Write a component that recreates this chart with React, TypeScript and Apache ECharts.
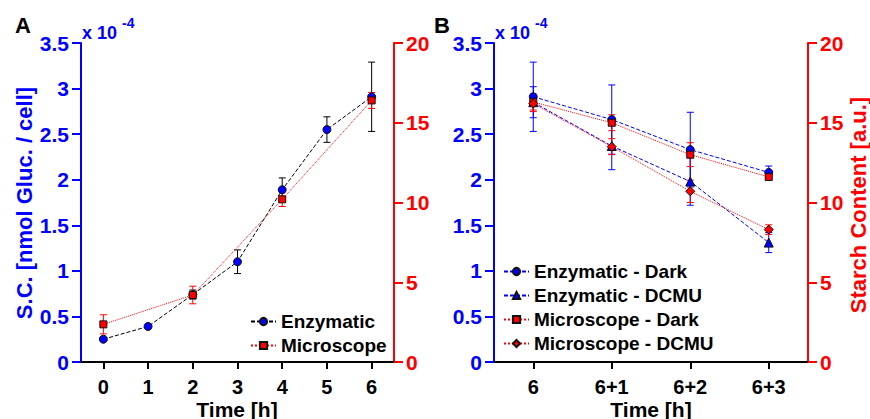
import React, { useEffect, useRef } from 'react';
import * as echarts from 'echarts';

const FONT = 'Liberation Sans, Arial, Helvetica, sans-serif';
const BLUE = '#0000FF';
const RED = '#FF0000';

// Panel A
const timeA = ['0', '1', '2', '3', '4', '5', '6'];
const enzymaticA = [0.25, 0.39, 0.74, 1.1, 1.89, 2.55, 2.91];
const enzymaticAErr = [0.02, 0.02, 0.05, 0.13, 0.13, 0.14, 0.38];
const microscopeA = [2.36, null, 4.2, null, 10.2, null, 16.4];
const microscopeAErr = [0.6, null, 0.55, null, 0.45, null, 0.5];

// Panel B
const timeB = ['6', '6+1', '6+2', '6+3'];
const enzDark = [2.91, 2.66, 2.33, 2.08];
const enzDarkErr = [0.38, 0.38, 0.41, 0.07];
const enzDCMU = [2.85, 2.37, 1.98, 1.31];
const enzDCMUErr = [0.17, 0.26, 0.26, 0.11];
const micDark = [16.3, 15.0, 13.0, 11.6];
const micDarkErr = [0.5, 0.5, 0.75, 0.2];
const micDCMU = [16.2, 13.5, 10.7, 8.3];
const micDCMUErr = [0.5, 0.5, 0.7, 0.3];

const leftTicks = { min: 0, max: 3.5, interval: 0.5 };
const rightTicks = { min: 0, max: 20, interval: 5 };

function errData(vals: (number | null)[], errs: (number | null)[]) {
  const out: number[][] = [];
  vals.forEach((v, i) => {
    const e = errs[i];
    if (v != null && e != null) out.push([i, v - e, v + e]);
  });
  return out;
}

const errRender = (color: string) => (params: any, api: any) => {
  const x = api.value(0);
  const lo = api.coord([x, api.value(1)]);
  const hi = api.coord([x, api.value(2)]);
  const w = 3.5;
  const style = { stroke: color, lineWidth: 1 };
  return {
    type: 'group',
    children: [
      { type: 'line', shape: { x1: hi[0], y1: hi[1], x2: lo[0], y2: lo[1] }, style },
      { type: 'line', shape: { x1: hi[0] - w, y1: hi[1], x2: hi[0] + w, y2: hi[1] }, style },
      { type: 'line', shape: { x1: lo[0] - w, y1: lo[1], x2: lo[0] + w, y2: lo[1] }, style },
    ],
  };
};

function errSeries(xi: number, yi: number, vals: any[], errs: any[], color: string) {
  return {
    type: 'custom',
    xAxisIndex: xi,
    yAxisIndex: yi,
    renderItem: errRender(color),
    encode: { x: 0, y: [1, 2] },
    data: errData(vals, errs),
    z: 1,
    silent: true,
  };
}

function lineSeries(name: string, xi: number, yi: number, data: any[], lineColor: string, dash: any, symbol: string, symbolColor: string, size: number) {
  return {
    name,
    type: 'line',
    xAxisIndex: xi,
    yAxisIndex: yi,
    data,
    connectNulls: true,
    symbol,
    symbolSize: size,
    lineStyle: { color: lineColor, width: 1, type: dash },
    itemStyle: { color: symbolColor, borderColor: '#111', borderWidth: 1 },
    z: 3,
  };
}

function yAxis(grid: number, pos: 'left' | 'right', color: string, ticks: any) {
  return {
    type: 'value',
    gridIndex: grid,
    position: pos,
    ...ticks,
    axisLine: { show: true, lineStyle: { color, width: 2 } },
    axisTick: { show: true, length: 9, lineStyle: { color, width: 2 } },
    axisLabel: { color, fontSize: 21, fontWeight: 'bold', fontFamily: FONT, margin: 12 },
    splitLine: { show: false },
  };
}

function xAxis(grid: number, data: string[]) {
  return {
    type: 'category',
    gridIndex: grid,
    data,
    position: 'bottom',
    boundaryGap: true,
    axisLine: { show: true, lineStyle: { color: '#000', width: 2 } },
    axisTick: { show: true, alignWithLabel: true, length: 7, lineStyle: { color: '#000', width: 2 } },
    axisLabel: { color: '#000', fontSize: 20, fontWeight: 'bold', fontFamily: FONT, margin: 15 },
    splitLine: { show: false },
  };
}

function topAxis(grid: number, data: string[]) {
  return {
    type: 'category',
    gridIndex: grid,
    data,
    position: 'top',
    axisLine: { show: true, lineStyle: { color: '#000', width: 2 } },
    axisTick: { show: false },
    axisLabel: { show: false },
  };
}

function txt(text: string, x: number, y: number, size: number, color: string, opts: any = {}) {
  return {
    type: 'text',
    x,
    y,
    rotation: opts.rotation || 0,
    style: {
      text,
      fill: color,
      fontSize: size,
      fontWeight: 'bold',
      fontFamily: FONT,
      align: opts.align || 'center',
      verticalAlign: 'middle',
    },
  };
}

export default function App() {
  const ref = useRef<HTMLDivElement>(null);
  useEffect(() => {
    document.body.style.margin = '0';
    const chart = echarts.init(ref.current!, undefined, { renderer: 'svg' });
    const legendText = { color: '#000', fontSize: 19, fontWeight: 'bold', fontFamily: FONT };
    chart.setOption({
      animation: false,
      textStyle: { fontFamily: FONT },
      grid: [
        { left: 81, right: 476, top: 43, bottom: 57 },
        { left: 494, right: 62, top: 43, bottom: 57 },
      ],
      xAxis: [xAxis(0, timeA), xAxis(1, timeB), topAxis(0, timeA), topAxis(1, timeB)],
      yAxis: [
        yAxis(0, 'left', BLUE, leftTicks),
        yAxis(0, 'right', RED, rightTicks),
        yAxis(1, 'left', BLUE, leftTicks),
        yAxis(1, 'right', RED, rightTicks),
      ],
      legend: [
        {
          orient: 'vertical',
          left: 245,
          top: 307,
          padding: 5,
          itemWidth: 25,
          itemHeight: 9,
          itemGap: 5,
          textStyle: legendText,
          data: ['Enzymatic', 'Microscope'],
        },
        {
          orient: 'vertical',
          left: 498,
          top: 257,
          padding: 5,
          itemWidth: 25,
          itemHeight: 9,
          itemGap: 5,
          textStyle: legendText,
          data: ['Enzymatic - Dark', 'Enzymatic - DCMU', 'Microscope - Dark', 'Microscope - DCMU'],
        },
      ],
      series: [
        errSeries(0, 0, enzymaticA, enzymaticAErr, '#000'),
        errSeries(0, 1, microscopeA, microscopeAErr, RED),
        lineSeries('Enzymatic', 0, 0, enzymaticA, '#000', [4, 2], 'circle', BLUE, 8),
        lineSeries('Microscope', 0, 1, microscopeA, RED, 'dotted', 'rect', RED, 7),
        errSeries(1, 2, enzDark, enzDarkErr, BLUE),
        errSeries(1, 2, enzDCMU, enzDCMUErr, BLUE),
        errSeries(1, 3, micDark, micDarkErr, RED),
        errSeries(1, 3, micDCMU, micDCMUErr, RED),
        lineSeries('Enzymatic - Dark', 1, 2, enzDark, BLUE, [4, 2], 'circle', BLUE, 8),
        lineSeries('Enzymatic - DCMU', 1, 2, enzDCMU, BLUE, [4, 2], 'triangle', BLUE, 9),
        lineSeries('Microscope - Dark', 1, 3, micDark, RED, 'dotted', 'rect', RED, 7),
        lineSeries('Microscope - DCMU', 1, 3, micDCMU, RED, 'dotted', 'diamond', RED, 9),
      ],
      graphic: [
        txt('A', 23, 25, 22, '#000'),
        txt('B', 442, 25, 22, '#000'),
        txt('x 10', 82, 33, 18, BLUE, { align: 'left' }),
        txt('-4', 122, 23, 14, BLUE, { align: 'left' }),
        txt('x 10', 495, 33, 18, BLUE, { align: 'left' }),
        txt('-4', 535, 23, 14, BLUE, { align: 'left' }),
        txt('S.C. [nmol Gluc. / cell]', 24, 203, 22, BLUE, { rotation: Math.PI / 2 }),
        txt('Starch Content [a.u.]', 858, 205, 22, RED, { rotation: Math.PI / 2 }),
        txt('Time [h]', 237, 409, 21, '#000'),
        txt('Time [h]', 651, 409, 21, '#000'),
      ],
    });
    return () => chart.dispose();
  }, []);
  return <div ref={ref} style={{ position: 'absolute', left: 0, top: 0, width: 870, height: 419 }} />;
}
